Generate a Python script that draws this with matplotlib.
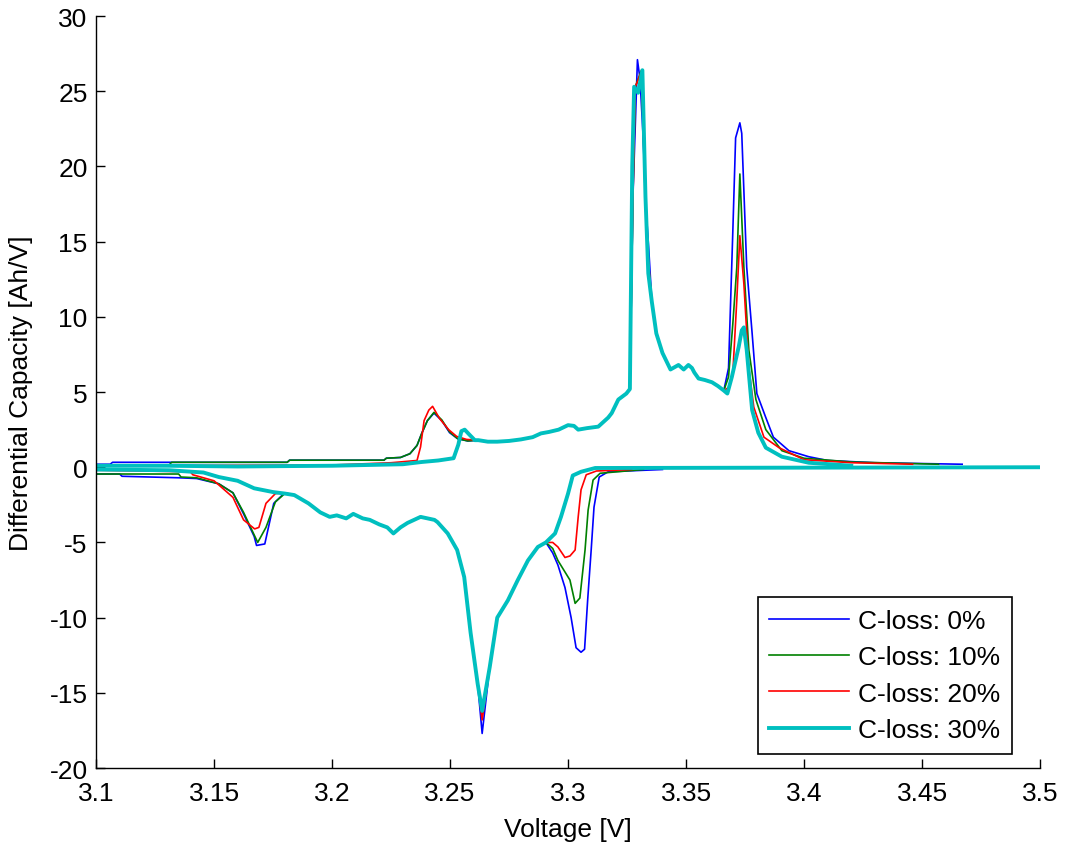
"""
Diferansiyel kapasite (dQ/dV) eğrileri: farklı kapasite kayıplarında
şarj (pozitif) ve deşarj (negatif) dalları.
"""

import numpy as np
import matplotlib
matplotlib.use("Agg")
import matplotlib.pyplot as plt

plt.rcParams["font.family"] = ["Liberation Sans", "DejaVu Sans"]
plt.rcParams["axes.unicode_minus"] = False

FONT_SIZE = 19

# ─── Seriler ──────────────────────────────────────────────────────────────────
LABELS = ["C-loss: 0%", "C-loss: 10%", "C-loss: 20%", "C-loss: 30%"]
COLORS = ["#0000ff", "#008000", "#ff0000", "#00bfbf"]
WIDTHS = [1.2, 1.2, 1.2, 2.8]

# ─── Şarj dalı: ortak gövde ──────────────────────────────────────────────────
V_CHG_MID = [3.262, 3.266, 3.270, 3.275, 3.280, 3.285, 3.2885, 3.292, 3.296, 3.300,
             3.3025, 3.3043, 3.308, 3.3128, 3.317, 3.3185, 3.3213, 3.3247, 3.3262]
Q_CHG_MID = [1.8, 1.7, 1.7, 1.75, 1.85, 2.0, 2.25, 2.35, 2.5, 2.8,
             2.75, 2.5, 2.6, 2.7, 3.3, 3.6, 4.5, 4.9, 5.2]

V_CHG_DESC = [3.3355, 3.3374, 3.340, 3.3434, 3.3468, 3.349, 3.351, 3.3525, 3.3535,
              3.3553, 3.358, 3.361, 3.3635, 3.366]
Q_CHG_DESC = [11.0, 8.9, 7.6, 6.5, 6.8, 6.5, 6.8, 6.6, 6.3,
              5.9, 5.8, 5.65, 5.4, 5.1]

# ─── Şarj dalı: seri bazında ─────────────────────────────────────────────────
V_CHG_LEFT_0 = [3.1, 3.106, 3.107, 3.181, 3.182, 3.222, 3.223, 3.229, 3.233, 3.236,
                3.238, 3.2404, 3.2432, 3.2465, 3.2498, 3.2532, 3.2575]
Q_CHG_LEFT_0 = [0.2, 0.2, 0.33, 0.33, 0.47, 0.47, 0.6, 0.65, 0.9, 1.45,
                2.25, 3.1, 3.6, 3.1, 2.3, 1.9, 1.75]
V_CHG_LEFT_1 = [3.1, 3.131, 3.132, 3.181, 3.182, 3.222, 3.223, 3.229, 3.233, 3.236,
                3.238, 3.2404, 3.2432, 3.2465, 3.2498, 3.2532, 3.2575]
Q_CHG_LEFT_1 = [0.15, 0.15, 0.33, 0.33, 0.47, 0.47, 0.6, 0.65, 0.9, 1.45,
                2.25, 3.1, 3.65, 3.15, 2.35, 1.9, 1.75]
V_CHG_LEFT_2 = [3.1, 3.2, 3.225, 3.236, 3.2375, 3.239, 3.241, 3.2426, 3.2455,
                3.2494, 3.2528, 3.257]
Q_CHG_LEFT_2 = [0.1, 0.15, 0.3, 0.45, 1.35, 3.1, 3.8, 4.05, 3.25,
                2.5, 2.05, 1.85]
V_CHG_LEFT_3 = [3.1, 3.13, 3.16, 3.2, 3.23, 3.238, 3.245, 3.2515, 3.2535, 3.2548,
                3.2562, 3.258, 3.2605]
Q_CHG_LEFT_3 = [0.1, 0.1, 0.05, 0.1, 0.2, 0.35, 0.45, 0.6, 1.5, 2.4,
                2.5, 2.2, 1.8]

V_CHG_PEAK_0 = [3.3275, 3.3294, 3.3305, 3.3318, 3.333, 3.3342]
Q_CHG_PEAK_0 = [18.0, 27.1, 25.8, 22.0, 17.3, 14.5]
V_CHG_PEAK_1 = [3.3275, 3.3285, 3.3311, 3.3325, 3.334]
Q_CHG_PEAK_1 = [18.0, 25.3, 26.4, 19.0, 13.5]
V_CHG_PEAK_2 = [3.3275, 3.3285, 3.3311, 3.3325, 3.334]
Q_CHG_PEAK_2 = [18.0, 25.3, 26.3, 19.5, 13.8]
V_CHG_PEAK_3 = [3.3272, 3.328, 3.3297, 3.3315, 3.3328, 3.334]
Q_CHG_PEAK_3 = [20.0, 25.3, 24.9, 26.4, 18.0, 12.9]

V_CHG_RIGHT_0 = [3.368, 3.3698, 3.371, 3.3728, 3.3736, 3.3757, 3.378, 3.380, 3.3838,
                 3.387, 3.3936, 3.402, 3.41, 3.43, 3.467]
Q_CHG_RIGHT_0 = [6.6, 15.6, 21.9, 22.9, 22.2, 13.3, 8.9, 4.9, 3.3,
                 2.0, 1.1, 0.7, 0.45, 0.3, 0.2]
V_CHG_RIGHT_1 = [3.368, 3.3698, 3.3715, 3.3728, 3.3745, 3.3766, 3.3796, 3.3838,
                 3.3906, 3.40, 3.42, 3.457]
Q_CHG_RIGHT_1 = [6.0, 9.5, 13.3, 19.5, 13.3, 7.8, 4.5, 2.5,
                 1.1, 0.6, 0.35, 0.2]
V_CHG_RIGHT_2 = [3.368, 3.3698, 3.3715, 3.3728, 3.3745, 3.3766, 3.3787, 3.383,
                 3.3894, 3.40, 3.42, 3.446]
Q_CHG_RIGHT_2 = [5.3, 6.2, 11.1, 15.4, 12.2, 6.6, 4.0, 2.0,
                 1.3, 0.5, 0.3, 0.2]
V_CHG_RIGHT_3 = [3.3675, 3.3694, 3.3723, 3.3736, 3.3745, 3.3757, 3.378, 3.3806,
                 3.3838, 3.3906, 3.402, 3.42]
Q_CHG_RIGHT_3 = [4.9, 6.0, 8.0, 9.1, 9.3, 7.8, 3.8, 2.3,
                 1.3, 0.7, 0.3, 0.1]

# ─── Deşarj dalı: ortak gövde ────────────────────────────────────────────────
V_DIS_MID1 = [3.184, 3.19, 3.195, 3.199, 3.202, 3.206, 3.209, 3.213, 3.216, 3.22,
              3.2234, 3.226, 3.229, 3.232, 3.2375, 3.2434, 3.2447, 3.249, 3.253,
              3.256, 3.2587, 3.2617]
Q_DIS_MID1 = [-1.85, -2.4, -3.0, -3.3, -3.2, -3.4, -3.1, -3.4, -3.5, -3.8,
              -4.0, -4.4, -4.0, -3.7, -3.3, -3.5, -3.65, -4.4, -5.5,
              -7.3, -11.0, -14.4]
V_DIS_MIN = 3.2636
Q_DIS_MIN = [-17.7, -16.4, -16.8, -16.2]
V_DIS_MID2 = [3.2668, 3.270, 3.2745, 3.2787, 3.283, 3.2872, 3.2906]
Q_DIS_MID2 = [-13.3, -10.0, -8.85, -7.5, -6.2, -5.3, -5.0]

# ─── Deşarj dalı: seri bazında ───────────────────────────────────────────────
V_DIS_LEFT_0 = [3.1, 3.11, 3.111, 3.135, 3.1426, 3.152, 3.158, 3.1625, 3.167, 3.168,
                3.1715, 3.1753, 3.1796]
Q_DIS_LEFT_0 = [-0.45, -0.45, -0.6, -0.7, -0.75, -1.1, -1.7, -3.1, -4.6, -5.2,
                -5.1, -2.4, -1.75]
V_DIS_LEFT_1 = [3.1, 3.135, 3.136, 3.1426, 3.152, 3.158, 3.1625, 3.1685, 3.172,
                3.176, 3.18]
Q_DIS_LEFT_1 = [-0.45, -0.45, -0.65, -0.7, -1.1, -1.7, -3.0, -5.0, -4.0,
                -2.3, -1.75]
V_DIS_LEFT_2 = [3.1, 3.14, 3.141, 3.15, 3.158, 3.1625, 3.1672, 3.169, 3.172,
                3.176, 3.18]
Q_DIS_LEFT_2 = [-0.2, -0.3, -0.5, -0.9, -2.0, -3.5, -4.1, -4.0, -2.4,
                -1.75, -1.7]
V_DIS_LEFT_3 = [3.1, 3.131, 3.1455, 3.152, 3.16, 3.167, 3.175, 3.18]
Q_DIS_LEFT_3 = [-0.15, -0.2, -0.35, -0.65, -0.9, -1.4, -1.65, -1.75]

V_DIS_RIGHT_0 = [3.2935, 3.2957, 3.2987, 3.3013, 3.3034, 3.3055, 3.307, 3.3083,
                 3.3098, 3.311, 3.3132, 3.317, 3.34]
Q_DIS_RIGHT_0 = [-5.7, -6.5, -8.0, -10.0, -12.0, -12.3, -12.1, -8.85,
                 -5.5, -2.65, -0.65, -0.3, -0.15]
V_DIS_RIGHT_1 = [3.2935, 3.2957, 3.3008, 3.303, 3.305, 3.3072, 3.3085, 3.3106,
                 3.3136, 3.332]
Q_DIS_RIGHT_1 = [-5.4, -6.2, -7.5, -9.05, -8.7, -5.5, -2.85, -0.85,
                 -0.4, -0.15]
V_DIS_RIGHT_2 = [3.2935, 3.2957, 3.2987, 3.3008, 3.303, 3.3043, 3.3055, 3.3077,
                 3.312, 3.327]
Q_DIS_RIGHT_2 = [-5.0, -5.3, -6.0, -5.9, -5.5, -3.3, -1.5, -0.5,
                 -0.25, -0.15]
V_DIS_RIGHT_3 = [3.2945, 3.297, 3.300, 3.302, 3.3055, 3.3115, 3.5]
Q_DIS_RIGHT_3 = [-4.4, -3.3, -1.75, -0.55, -0.3, -0.05, 0.0]

X_TICKS = [3.1, 3.15, 3.2, 3.25, 3.3, 3.35, 3.4, 3.45, 3.5]
X_TICK_LABELS = ["3.1", "3.15", "3.2", "3.25", "3.3", "3.35", "3.4", "3.45", "3.5"]
Y_TICKS = [-20, -15, -10, -5, 0, 5, 10, 15, 20, 25, 30]

CHG_LEFT = [(V_CHG_LEFT_0, Q_CHG_LEFT_0), (V_CHG_LEFT_1, Q_CHG_LEFT_1),
            (V_CHG_LEFT_2, Q_CHG_LEFT_2), (V_CHG_LEFT_3, Q_CHG_LEFT_3)]
CHG_PEAK = [(V_CHG_PEAK_0, Q_CHG_PEAK_0), (V_CHG_PEAK_1, Q_CHG_PEAK_1),
            (V_CHG_PEAK_2, Q_CHG_PEAK_2), (V_CHG_PEAK_3, Q_CHG_PEAK_3)]
CHG_RIGHT = [(V_CHG_RIGHT_0, Q_CHG_RIGHT_0), (V_CHG_RIGHT_1, Q_CHG_RIGHT_1),
             (V_CHG_RIGHT_2, Q_CHG_RIGHT_2), (V_CHG_RIGHT_3, Q_CHG_RIGHT_3)]
DIS_LEFT = [(V_DIS_LEFT_0, Q_DIS_LEFT_0), (V_DIS_LEFT_1, Q_DIS_LEFT_1),
            (V_DIS_LEFT_2, Q_DIS_LEFT_2), (V_DIS_LEFT_3, Q_DIS_LEFT_3)]
DIS_RIGHT = [(V_DIS_RIGHT_0, Q_DIS_RIGHT_0), (V_DIS_RIGHT_1, Q_DIS_RIGHT_1),
             (V_DIS_RIGHT_2, Q_DIS_RIGHT_2), (V_DIS_RIGHT_3, Q_DIS_RIGHT_3)]


def build_curves(i):
    """i. seri için şarj ve deşarj dallarını birleştir."""
    v_chg = np.concatenate([CHG_LEFT[i][0], V_CHG_MID, CHG_PEAK[i][0], V_CHG_DESC, CHG_RIGHT[i][0]])
    q_chg = np.concatenate([CHG_LEFT[i][1], Q_CHG_MID, CHG_PEAK[i][1], Q_CHG_DESC, CHG_RIGHT[i][1]])
    v_dis = np.concatenate([DIS_LEFT[i][0], V_DIS_MID1, [V_DIS_MIN], V_DIS_MID2, DIS_RIGHT[i][0]])
    q_dis = np.concatenate([DIS_LEFT[i][1], Q_DIS_MID1, [Q_DIS_MIN[i]], Q_DIS_MID2, DIS_RIGHT[i][1]])
    return v_chg, q_chg, v_dis, q_dis


def plot_dqdv():
    fig = plt.figure(figsize=(10.72, 8.45), dpi=100)
    ax = fig.add_axes([0.0896, 0.0899, 0.8806, 0.8899])

    for i, label in enumerate(LABELS):
        v_chg, q_chg, v_dis, q_dis = build_curves(i)
        ax.plot(v_chg, q_chg, color=COLORS[i], linewidth=WIDTHS[i], label=label,
                solid_joinstyle="round")
        ax.plot(v_dis, q_dis, color=COLORS[i], linewidth=WIDTHS[i],
                solid_joinstyle="round")

    ax.set_xlim(3.1, 3.5)
    ax.set_ylim(-20, 30)
    ax.set_xticks(X_TICKS)
    ax.set_xticklabels(X_TICK_LABELS)
    ax.set_yticks(Y_TICKS)
    ax.set_yticklabels([str(t) for t in Y_TICKS])

    ax.spines["top"].set_visible(False)
    ax.spines["right"].set_visible(False)
    for side in ("left", "bottom"):
        ax.spines[side].set_linewidth(1.0)
    ax.tick_params(direction="in", length=6.5, width=1.0, labelsize=FONT_SIZE, color="black")
    ax.tick_params(axis="x", pad=9)
    ax.tick_params(axis="y", pad=6)

    ax.set_xlabel("Voltage [V]", fontsize=FONT_SIZE, labelpad=9)
    ax.set_ylabel("Differential Capacity [Ah/V]", fontsize=FONT_SIZE, labelpad=12)

    leg = ax.legend(loc="lower right", bbox_to_anchor=(1012 / 1072, 1 - 755 / 845),
                    bbox_transform=fig.transFigure, fontsize=FONT_SIZE, fancybox=False,
                    framealpha=1, edgecolor="black", handlelength=3.0,
                    handletextpad=0.35, labelspacing=0.47, borderpad=0.45,
                    borderaxespad=0)
    leg.get_frame().set_linewidth(1.2)

    fig.savefig("out.png", dpi=100)
    plt.close(fig)


if __name__ == "__main__":
    plot_dqdv()
